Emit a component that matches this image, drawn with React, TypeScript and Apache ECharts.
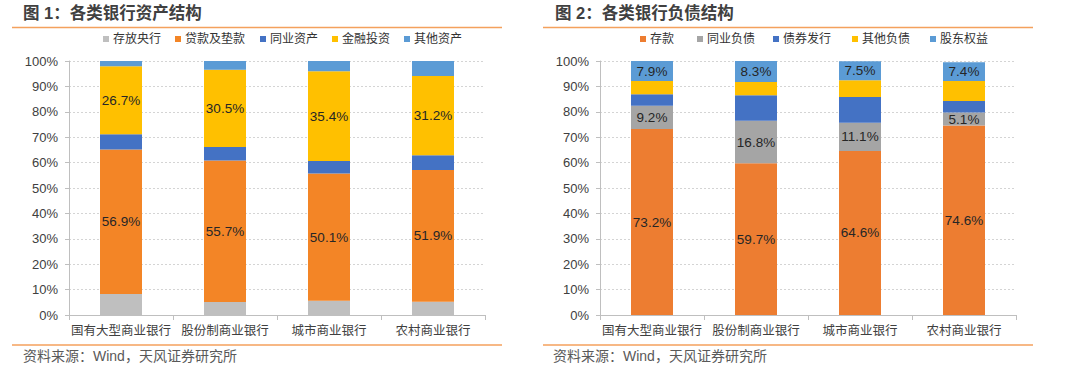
import React, { useEffect, useRef } from "react";
import * as echarts from "echarts";

const categories = ["国有大型商业银行", "股份制商业银行", "城市商业银行", "农村商业银行"];
const yTicks = [0, 10, 20, 30, 40, 50, 60, 70, 80, 90, 100];

// Chart 1: asset structure (%)
const assetNames = ["存放央行", "贷款及垫款", "同业资产", "金融投资", "其他资产"];
const depositCentral = [8.3, 5.1, 5.6, 5.2];
const loans = [56.9, 55.7, 50.1, 51.9];
const interbankAssets = [6.0, 5.3, 4.9, 5.8];
const finInvest = [26.7, 30.5, 35.4, 31.2];
const otherAssets = [2.1, 3.4, 4.0, 5.9];
const assetLabeled = [false, true, false, true, false];
const assetColors = ["#BFBFBF", "#F38526", "#4472C4", "#FFC000", "#5B9BD5"];

// Chart 2: liability structure (%)
const liabNames = ["存款", "同业负债", "债券发行", "其他负债", "股东权益"];
const deposits = [73.2, 59.7, 64.6, 74.6];
const interbankLiab = [9.2, 16.8, 11.1, 5.1];
const bonds = [4.5, 10.0, 10.1, 4.6];
const otherLiab = [5.2, 5.2, 6.6, 7.8];
const equity = [7.9, 8.3, 7.5, 7.4];
const liabLabeled = [true, true, false, false, true];
const liabColors = ["#ED7D31", "#A5A5A5", "#4472C4", "#FFC000", "#5B9BD5"];

const FONT = "'Liberation Sans', Arial, 'Noto Sans CJK SC', sans-serif";

export default function App() {
  const ref = useRef<HTMLDivElement>(null);

  useEffect(() => {
    document.body.style.margin = "0";
    if (!ref.current) return;
    const chart = echarts.init(ref.current, undefined, { renderer: "svg" });

    const assetData = [depositCentral, loans, interbankAssets, finInvest, otherAssets];
    const liabData = [deposits, interbankLiab, bonds, otherLiab, equity];

    const mkSeries = (names: string[], data: number[][], colors: string[], labeled: boolean[], idx: number, stack: string) =>
      names.map((n, i) => ({
        name: n,
        type: "bar",
        stack,
        xAxisIndex: idx,
        yAxisIndex: idx,
        barWidth: 42,
        data: data[i],
        itemStyle: { color: colors[i] },
        label: {
          show: labeled[i],
          position: "inside",
          formatter: (p: any) => `${p.value.toFixed(1)}%`,
          color: "#262626",
          fontSize: 13.5,
          fontFamily: FONT,
        },
        emphasis: { disabled: true },
      }));

    const axisLabelStyle = { color: "#404040", fontSize: 13, fontFamily: FONT };

    const mkX = (gi: number) => ({
      type: "category",
      gridIndex: gi,
      data: categories,
      axisLine: { lineStyle: { color: "#BFBFBF" } },
      axisTick: { show: true, length: 5, lineStyle: { color: "#BFBFBF" } },
      axisLabel: { ...axisLabelStyle, fontSize: 12.5, margin: 10, interval: 0 },
    });
    const mkY = (gi: number) => ({
      type: "value",
      gridIndex: gi,
      min: yTicks[0],
      max: yTicks[yTicks.length - 1],
      interval: 10,
      axisLine: { show: true, lineStyle: { color: "#BFBFBF" } },
      axisTick: { show: true, length: 4, lineStyle: { color: "#BFBFBF" } },
      axisLabel: { ...axisLabelStyle, margin: 11, formatter: "{value}%" },
      splitLine: { lineStyle: { color: "#D4D4D4", type: [2, 2] } },
    });

    const assetLegendX = [103, 175, 260, 332, 404];
    const liabLegendX = [640, 697, 773, 852, 930];
    const mkLegendItem = (name: string, left: number) => ({
      data: [name],
      left,
      top: 33,
      icon: "rect",
      itemWidth: 6,
      itemHeight: 6,
      selectedMode: false,
      padding: 0,
      textStyle: { color: "#333333", fontSize: 12, fontFamily: FONT, padding: [0, 0, 0, -1] },
    });

    const titleStyle = { fill: "#404040", fontSize: 16.5, fontWeight: "bold", fontFamily: FONT };
    const srcStyle = { fill: "#595959", fontSize: 14, fontFamily: FONT };
    const lineStyle = { stroke: "#F4A15D", lineWidth: 1.5 };

    chart.setOption({
      animation: false,
      backgroundColor: "#FFFFFF",
      legend: [
        ...assetNames.map((n, i) => mkLegendItem(n, assetLegendX[i])),
        ...liabNames.map((n, i) => mkLegendItem(n, liabLegendX[i])),
      ],
      grid: [
        { left: 69, top: 61, width: 416, height: 254 },
        { left: 600, top: 61, width: 416, height: 254 },
      ],
      xAxis: [mkX(0), mkX(1)],
      yAxis: [mkY(0), mkY(1)],
      series: [
        ...mkSeries(assetNames, assetData, assetColors, assetLabeled, 0, "a"),
        ...mkSeries(liabNames, liabData, liabColors, liabLabeled, 1, "b"),
      ],
      graphic: [
        { type: "text", left: 23, top: 5, style: { ...titleStyle, text: "图 1：各类银行资产结构" } },
        { type: "text", left: 555, top: 5, style: { ...titleStyle, text: "图 2：各类银行负债结构" } },
        { type: "line", shape: { x1: 12, y1: 27.5, x2: 502, y2: 27.5 }, style: lineStyle },
        { type: "line", shape: { x1: 543, y1: 27.5, x2: 1033, y2: 27.5 }, style: lineStyle },
        { type: "line", shape: { x1: 12, y1: 345, x2: 502, y2: 345 }, style: lineStyle },
        { type: "line", shape: { x1: 543, y1: 345, x2: 1033, y2: 345 }, style: lineStyle },
        { type: "text", left: 23, top: 349, style: { ...srcStyle, text: "资料来源：Wind，天风证券研究所" } },
        { type: "text", left: 553, top: 349, style: { ...srcStyle, text: "资料来源：Wind，天风证券研究所" } },
      ],
    });

    return () => chart.dispose();
  }, []);

  return <div ref={ref} style={{ width: 1080, height: 372 }} />;
}
